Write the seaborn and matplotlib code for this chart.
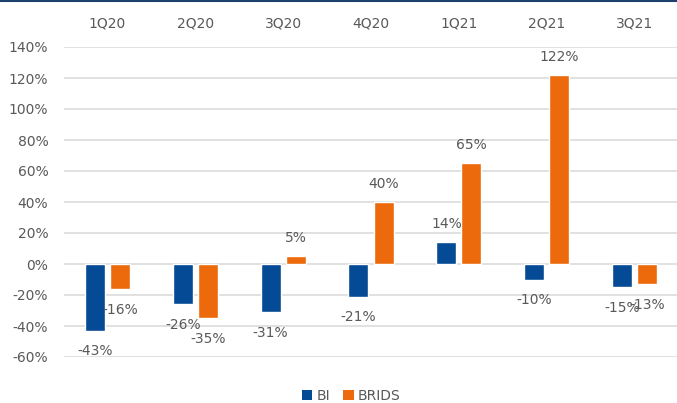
import matplotlib
matplotlib.use("Agg")
import matplotlib.pyplot as plt
from matplotlib.lines import Line2D
from matplotlib.patches import Patch
import seaborn as sns
import pandas as pd

quarters = ["1Q20", "2Q20", "3Q20", "4Q20", "1Q21", "2Q21", "3Q21"]
bi = [-43, -26, -31, -21, 14, -10, -15]
brids = [-16, -35, 5, 40, 65, 122, -13]
series = ["BI", "BRIDS"]
y_ticks = [-60, -40, -20, 0, 20, 40, 60, 80, 100, 120, 140]

colors = {"BI": "#044A94", "BRIDS": "#EC6A0C"}
text_gray = "#595959"

df = pd.DataFrame({
    "quarter": quarters * 2,
    "series": ["BI"] * len(quarters) + ["BRIDS"] * len(quarters),
    "value": bi + brids,
})

sns.set_theme(style="white")
plt.rcParams["font.family"] = ["DejaVu Sans"]

fig = plt.figure(figsize=(6.77, 4.03), dpi=100)
ax = fig.add_axes([63.6 / 677, 1 - 357 / 403, 614.8 / 677, 310 / 403])

sns.barplot(data=df, x="quarter", y="value", hue="series", order=quarters,
            hue_order=series, palette=colors, width=0.57, gap=0.2,
            saturation=1, legend=False, ax=ax)

ax.set_ylim(-60, 140)
ax.set_xlim(-0.5, len(quarters) - 0.5)
ax.set_yticks(y_ticks)
ax.set_yticklabels([f"{v}%" for v in y_ticks])
ax.yaxis.grid(True, color="#D9D9D9", linewidth=1.1)
ax.set_axisbelow(True)
ax.xaxis.tick_top()
ax.tick_params(axis="x", length=0, pad=12, labelsize=10, labelcolor=text_gray)
ax.tick_params(axis="y", length=0, pad=11, labelsize=10, labelcolor=text_gray)
ax.set_xlabel("")
ax.set_ylabel("")
for s in ax.spines.values():
    s.set_visible(False)

# value labels at the outer end of each bar
for container, vals in zip(ax.containers, [bi, brids]):
    for rect, v in zip(container.patches, vals):
        x = rect.get_x() + rect.get_width() / 2
        off = 13 if v >= 0 else -15
        ax.annotate(f"{v}%", xy=(x, v), xytext=(0, off), textcoords="offset points",
                    ha="center", va="center", fontsize=10, color=text_gray)

handles = [Patch(facecolor=colors[s], edgecolor="none") for s in series]
fig.legend(handles, series, loc="center", bbox_to_anchor=(0.519, 1 - 396 / 403),
           ncol=2, frameon=False, fontsize=10, labelcolor=text_gray,
           handlelength=0.75, handleheight=0.75, handletextpad=0.3,
           columnspacing=0.95)

fig.add_artist(Line2D([0, 1], [1 - 0.6 / 403, 1 - 0.6 / 403], color="#1F3F6E",
                      linewidth=1.5, transform=fig.transFigure))

fig.savefig("out.png", dpi=100)
